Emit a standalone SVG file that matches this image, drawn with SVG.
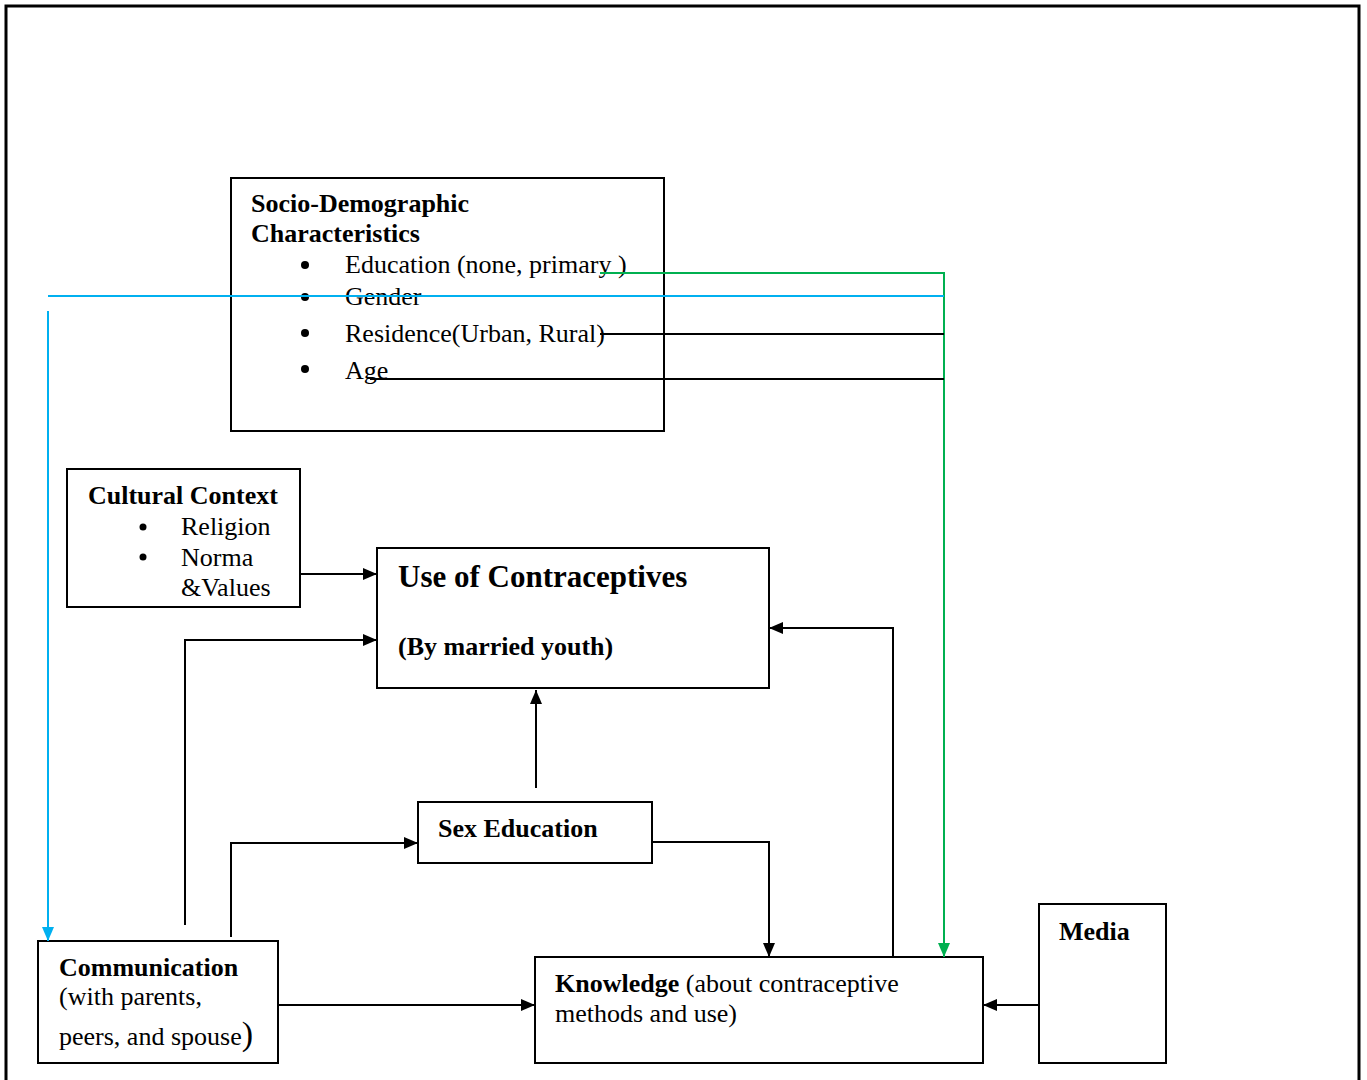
<svg xmlns="http://www.w3.org/2000/svg" width="1367" height="1080" viewBox="0 0 1367 1080">
<defs>
<marker id="ab" markerWidth="14" markerHeight="12" refX="14" refY="6" orient="auto" markerUnits="userSpaceOnUse"><path d="M0,0 L14,6 L0,12 Z" fill="#000"/></marker>
<marker id="ablue" markerWidth="14" markerHeight="12" refX="14" refY="6" orient="auto" markerUnits="userSpaceOnUse"><path d="M0,0 L14,6 L0,12 Z" fill="#00b0f0"/></marker>
<marker id="agreen" markerWidth="14" markerHeight="12" refX="14" refY="6" orient="auto" markerUnits="userSpaceOnUse"><path d="M0,0 L14,6 L0,12 Z" fill="#00b050"/></marker>
</defs>
<style>
.box{fill:#fff;stroke:#000;stroke-width:2}
.t{font-family:"Liberation Serif","Times New Roman",serif;font-size:26px;fill:#000}
.b{font-weight:bold}
.c{fill:none;stroke:#000;stroke-width:2}
</style>
<rect x="0" y="0" width="1367" height="1080" fill="#fff"/>
<path d="M6,1080 V6 H1359 V1080" fill="none" stroke="#000" stroke-width="3"/>

<g id="socio">
<rect class="box" x="231" y="178" width="433" height="253"/>
<text class="t b" x="251" y="212">Socio-Demographic</text>
<text class="t b" x="251" y="242">Characteristics</text>
<circle cx="305" cy="265" r="4"/><text class="t" x="345" y="273">Education (none, primary )</text>
<circle cx="305" cy="297" r="4"/><text class="t" x="345" y="305">Gender</text>
<circle cx="305" cy="333" r="4"/><text class="t" x="345" y="342">Residence(Urban, Rural)</text>
<circle cx="305" cy="369" r="4"/><text class="t" x="345" y="379">Age</text>
</g>

<g id="cultural">
<rect class="box" x="67" y="469" width="233" height="138"/>
<text class="t b" x="88" y="504">Cultural Context</text>
<circle cx="143" cy="527" r="3.5"/><text class="t" x="181" y="535">Religion</text>
<circle cx="143" cy="557" r="3.5"/><text class="t" x="181" y="566">Norma</text>
<text class="t" x="181" y="596">&amp;Values</text>
</g>

<g id="use">
<rect class="box" x="377" y="548" width="392" height="140"/>
<text class="t b" x="398" y="587" style="font-size:31px">Use of Contraceptives</text>
<text class="t b" x="398" y="655">(By married youth)</text>
</g>

<g id="sexed">
<rect class="box" x="418" y="802" width="234" height="61"/>
<text class="t b" x="438" y="837">Sex Education</text>
</g>

<g id="communication">
<rect class="box" x="38" y="941" width="240" height="122"/>
<text class="t b" x="59" y="976">Communication</text>
<text class="t" x="59" y="1005">(with parents,</text>
<text class="t" x="59" y="1045">peers, and spouse<tspan style="font-size:34px">)</tspan></text>
</g>

<g id="knowledge">
<rect class="box" x="535" y="957" width="448" height="106"/>
<text class="t" x="555" y="992"><tspan class="b">Knowledge</tspan> (about contraceptive</text>
<text class="t" x="555" y="1022">methods and use)</text>
</g>

<g id="media">
<rect class="box" x="1039" y="904" width="127" height="159"/>
<text class="t b" x="1059" y="940">Media</text>
</g>

<g id="connectors">
<polyline points="600,273 944,273 944,957" fill="none" stroke="#00b050" stroke-width="2" marker-end="url(#agreen)"/>
<line x1="48" y1="296" x2="944" y2="296" stroke="#00b0f0" stroke-width="2"/>
<line x1="48" y1="311" x2="48" y2="941" stroke="#00b0f0" stroke-width="2" marker-end="url(#ablue)"/>
<line class="c" x1="600" y1="334" x2="944" y2="334"/>
<line class="c" x1="370" y1="379" x2="944" y2="379"/>
<line class="c" x1="300" y1="574" x2="377" y2="574" marker-end="url(#ab)"/>
<polyline class="c" points="185,925 185,640 377,640" marker-end="url(#ab)"/>
<polyline class="c" points="231,937 231,843 418,843" marker-end="url(#ab)"/>
<line class="c" x1="536" y1="788" x2="536" y2="690" marker-end="url(#ab)"/>
<polyline class="c" points="652,842 769,842 769,957" marker-end="url(#ab)"/>
<polyline class="c" points="893,957 893,628 769,628" marker-end="url(#ab)"/>
<line class="c" x1="278" y1="1005" x2="535" y2="1005" marker-end="url(#ab)"/>
<line class="c" x1="1039" y1="1005" x2="983" y2="1005" marker-end="url(#ab)"/>
</g>
</svg>
